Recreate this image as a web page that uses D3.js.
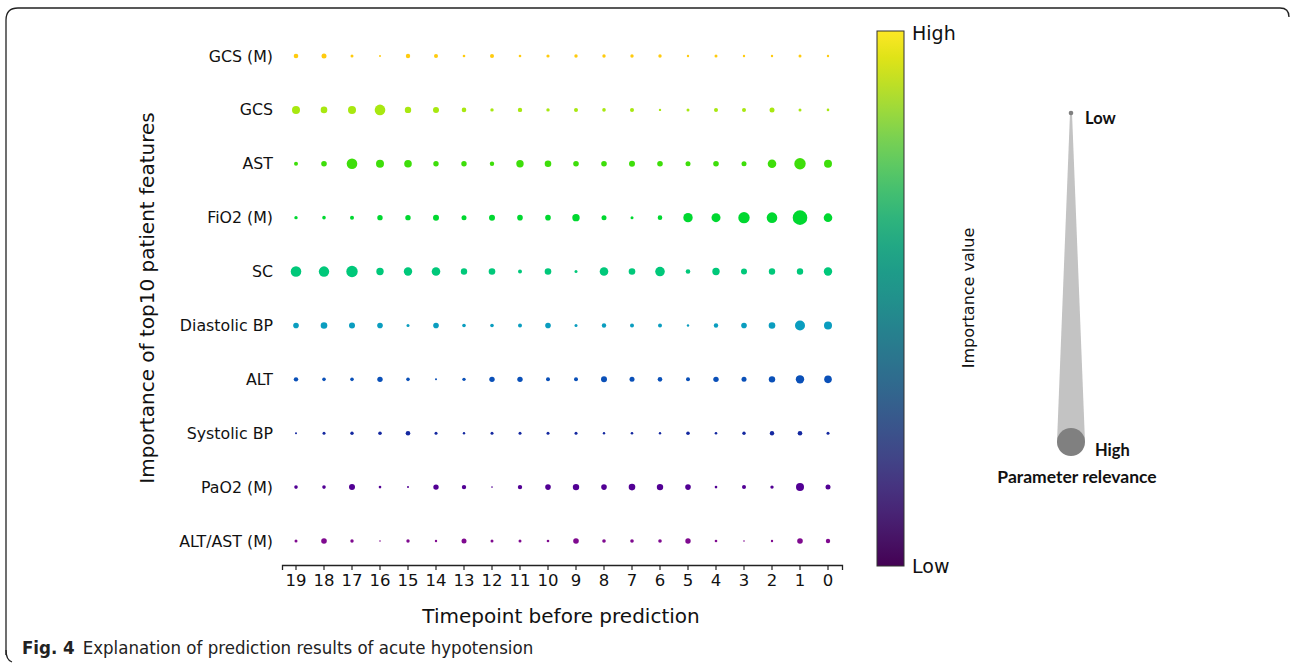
<!DOCTYPE html>
<html>
<head>
<meta charset="utf-8">
<script src="https://cdn.jsdelivr.net/npm/d3@7"></script>
<style>
  body { margin: 0; background: #fff; }
  svg { display: block; font-family: "DejaVu Sans", sans-serif; }
</style>
</head>
<body>
<svg id="chart"></svg>
<script>
const width = 1290,
  height = 667;

const features = ["GCS (M)", "GCS", "AST", "FiO2 (M)", "SC", "Diastolic BP", "ALT", "Systolic BP", "PaO2 (M)", "ALT/AST (M)"];
const timepoints = [19, 18, 17, 16, 15, 14, 13, 12, 11, 10, 9, 8, 7, 6, 5, 4, 3, 2, 1, 0];
const rowColors = ["#ffcb0e", "#a8e810", "#3ede0a", "#00d830", "#00c87a", "#0a9dbf", "#0a50b8", "#1428a0", "#520094", "#7f0a8f"];

// importance per timepoint (19 -> 0)
const gcsM      = [2.3, 2.5, 1.5, 1.0, 2.2, 2.0, 1.3, 2.0, 1.3, 1.6, 1.7, 1.7, 1.7, 1.7, 1.2, 1.5, 1.2, 1.2, 1.5, 1.2];
const gcs       = [4.0, 3.3, 4.0, 5.3, 3.2, 3.0, 2.3, 1.7, 2.2, 1.7, 2.0, 1.8, 2.0, 1.2, 1.5, 2.0, 2.0, 2.5, 1.5, 1.3];
const ast       = [2.0, 2.8, 5.3, 4.0, 3.8, 2.7, 2.7, 2.2, 3.7, 3.3, 2.8, 2.8, 3.0, 2.8, 2.5, 2.8, 2.5, 4.3, 5.7, 4.0];
const fio2M     = [1.7, 1.8, 2.0, 2.7, 2.7, 3.0, 2.5, 3.0, 2.8, 2.8, 3.7, 2.5, 1.5, 2.3, 4.7, 4.5, 5.7, 5.3, 7.3, 4.3];
const sc        = [5.3, 5.2, 5.7, 3.7, 4.2, 4.3, 3.2, 3.3, 2.0, 3.3, 1.5, 4.3, 3.3, 4.8, 2.3, 3.7, 3.0, 3.2, 3.2, 4.2];
const diastolic = [2.8, 3.3, 3.0, 2.8, 1.5, 2.8, 1.8, 1.8, 2.0, 2.8, 1.5, 2.2, 2.0, 2.0, 1.2, 2.2, 2.8, 3.3, 5.0, 4.0];
const alt       = [2.2, 1.8, 1.8, 2.7, 1.8, 1.0, 1.7, 2.7, 2.7, 2.0, 2.0, 3.0, 2.5, 2.3, 2.0, 2.7, 2.5, 3.2, 4.2, 3.8];
const systolic  = [1.0, 1.5, 1.7, 1.8, 2.3, 1.5, 1.2, 1.5, 1.5, 1.5, 1.5, 1.2, 1.3, 1.2, 1.8, 1.3, 1.7, 2.2, 2.3, 1.5];
const pao2M     = [1.8, 1.8, 3.0, 1.3, 1.0, 2.7, 2.2, 0.8, 2.2, 2.8, 3.2, 2.8, 3.3, 3.2, 2.8, 1.3, 2.0, 1.7, 4.0, 2.5];
const altAstM   = [1.5, 2.8, 1.7, 0.8, 1.7, 1.2, 2.5, 1.5, 1.5, 1.3, 2.8, 1.8, 1.8, 1.8, 2.7, 1.3, 0.8, 1.2, 2.8, 2.2];

const rows = [gcsM, gcs, ast, fio2M, sc, diastolic, alt, systolic, pao2M, altAstM];
const cells = rows.flatMap((vals, r) =>
  vals.map((v, i) => ({ feature: features[r], t: timepoints[i], value: v, color: rowColors[r] }))
);

const svg = d3.select("#chart").attr("width", width).attr("height", height);

// figure frame
svg.append("path")
  .attr("d", "M6,655 L6,20 Q6,8 18,8 L1280,8 Q1289,8 1289,17")
  .attr("fill", "none")
  .attr("stroke", "#222")
  .attr("stroke-width", 1.3);
svg.append("path")
  .attr("d", "M6,650 Q6,660 12,662")
  .attr("fill", "none")
  .attr("stroke", "#222")
  .attr("stroke-width", 1.3);

const xScale = d3.scaleBand().domain(timepoints).range([282, 842]);
const yScale = d3.scalePoint().domain(features).range([56, 541]);
const rScale = d3.scaleLinear().domain([0, 7.3]).range([0, 7.3]);

// dots
svg.append("g")
  .selectAll("circle")
  .data(cells)
  .join("circle")
  .attr("cx", (d) => xScale(d.t) + xScale.bandwidth() / 2)
  .attr("cy", (d) => yScale(d.feature))
  .attr("r", (d) => rScale(d.value))
  .attr("fill", (d) => d.color);

// x axis
const xAxis = svg.append("g")
  .attr("transform", "translate(0,565)")
  .call(d3.axisBottom(xScale).tickSizeOuter(0).tickSize(5).tickPadding(4));
xAxis.select(".domain").attr("stroke", "#222").attr("stroke-width", 1.3);
xAxis.selectAll(".tick line").attr("stroke", "#222").attr("stroke-width", 1.2);
xAxis.selectAll("text")
  .attr("font-family", "DejaVu Sans")
  .attr("font-size", 16.5)
  .attr("fill", "#111");

// y axis (labels only)
const yAxis = svg.append("g")
  .attr("transform", "translate(282,0)")
  .call(d3.axisLeft(yScale).tickSize(0).tickPadding(9));
yAxis.select(".domain").remove();
yAxis.selectAll("text")
  .attr("font-family", "DejaVu Sans")
  .attr("font-size", 15.8)
  .attr("fill", "#111");

svg.append("text")
  .attr("x", 561)
  .attr("y", 623)
  .attr("text-anchor", "middle")
  .attr("font-size", 20)
  .attr("fill", "#111")
  .text("Timepoint before prediction");

svg.append("text")
  .attr("transform", "translate(154,298) rotate(-90)")
  .attr("text-anchor", "middle")
  .attr("font-size", 20)
  .attr("fill", "#111")
  .text("Importance of top10 patient features");

// colorbar
const barX = 877, barW = 27, barTop = 31, barBottom = 566;
const defs = svg.append("defs");
const grad = defs.append("linearGradient")
  .attr("id", "viridis")
  .attr("x1", 0).attr("y1", 1).attr("x2", 0).attr("y2", 0);
d3.range(0, 1.001, 0.05).forEach((s) => {
  grad.append("stop")
    .attr("offset", s)
    .attr("stop-color", d3.interpolateViridis(s));
});
svg.append("rect")
  .attr("x", barX)
  .attr("y", barTop)
  .attr("width", barW)
  .attr("height", barBottom - barTop)
  .attr("fill", "url(#viridis)")
  .attr("stroke", "#333")
  .attr("stroke-width", 1);

const barLabels = ["High", "Low"];
const barScale = d3.scalePoint().domain(barLabels).range([barTop + 2, barBottom]);
svg.append("g")
  .selectAll("text")
  .data(barLabels)
  .join("text")
  .attr("x", barX + barW + 8)
  .attr("y", (d) => barScale(d))
  .attr("dy", "0.35em")
  .attr("font-size", 19)
  .attr("fill", "#111")
  .text((d) => d);

svg.append("text")
  .attr("transform", "translate(974,298) rotate(-90)")
  .attr("text-anchor", "middle")
  .attr("font-size", 16)
  .attr("fill", "#111")
  .text("Importance value");

// size legend: cone from low to high relevance
const coneX = 1071, coneTop = 113, coneBottom = 442, coneR = 14;
svg.append("path")
  .attr("d", `M${coneX - 1},${coneTop} L${coneX + 1},${coneTop} L${coneX + coneR},${coneBottom} L${coneX - coneR},${coneBottom} Z`)
  .attr("fill", "#c3c3c3");
svg.append("circle")
  .attr("cx", coneX).attr("cy", coneBottom).attr("r", coneR)
  .attr("fill", "#808080");
svg.append("circle")
  .attr("cx", coneX).attr("cy", coneTop).attr("r", 2.3)
  .attr("fill", "#808080");

const legendFont = "Lato, 'Open Sans', sans-serif";
svg.append("text")
  .attr("x", 1085).attr("y", 124)
  .attr("font-family", legendFont)
  .attr("font-weight", "bold")
  .attr("font-size", 16.5)
  .attr("fill", "#111")
  .text("Low");
svg.append("text")
  .attr("x", 1095).attr("y", 456)
  .attr("font-family", legendFont)
  .attr("font-weight", "bold")
  .attr("font-size", 16.5)
  .attr("fill", "#111")
  .text("High");
svg.append("text")
  .attr("x", 1077).attr("y", 483)
  .attr("text-anchor", "middle")
  .attr("font-family", legendFont)
  .attr("font-weight", "bold")
  .attr("font-size", 17.5)
  .attr("fill", "#111")
  .text("Parameter relevance");

// caption
const caption = svg.append("text")
  .attr("x", 22)
  .attr("y", 654)
  .attr("font-family", "'Liberation Sans Narrow', 'DejaVu Sans Condensed', sans-serif")
  .attr("font-size", 18.5)
  .attr("fill", "#222");
caption.append("tspan").attr("font-weight", "bold").text("Fig. 4");
caption.append("tspan").attr("dx", 8).text("Explanation of prediction results of acute hypotension");
</script>
</body>
</html>
